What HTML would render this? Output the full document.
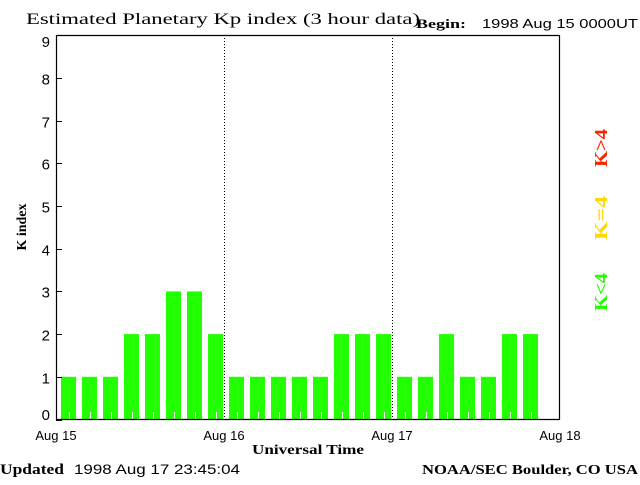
<!DOCTYPE html>
<html><head><meta charset="utf-8"><style>
body{margin:0;background:#fff;width:640px;height:480px;overflow:hidden}
</style></head><body>
<svg width="640" height="480" xmlns="http://www.w3.org/2000/svg" font-family="Liberation Sans, sans-serif">
<rect width="640" height="480" fill="#fff"/>
<text x="26" y="24" font-family="Liberation Serif, serif" font-size="16" textLength="394" lengthAdjust="spacingAndGlyphs">Estimated Planetary Kp index (3 hour data)</text>
<text x="416" y="28" font-family="Liberation Serif, serif" font-weight="bold" font-size="13" textLength="50" lengthAdjust="spacingAndGlyphs">Begin:</text>
<text x="482" y="28" font-size="13" textLength="156" lengthAdjust="spacingAndGlyphs">1998 Aug 15 0000UT</text>
<g id="bars" fill="#22ff00"></g>
<g stroke="#000" stroke-width="1" stroke-dasharray="1,2">
<line x1="224.5" y1="35" x2="224.5" y2="419"/>
<line x1="392.5" y1="35" x2="392.5" y2="419"/>
</g>
<g stroke="#000" stroke-width="1.2" fill="none">
<line x1="56.5" y1="35" x2="56.5" y2="420"/>
<line x1="56" y1="419.5" x2="560" y2="419.5"/>
<line x1="56" y1="35.5" x2="560" y2="35.5"/>
<line x1="559.5" y1="35" x2="559.5" y2="420"/>
</g>
<g id="ticks" stroke="#000"></g>
<g font-size="15" text-anchor="end" id="ylab"></g>
<text x="26" y="227" font-family="Liberation Serif, serif" font-weight="bold" font-size="14" transform="rotate(-90 26 227)" text-anchor="middle">K index</text>
<g font-size="13" text-anchor="middle">
<text x="56" y="440">Aug 15</text><text x="224" y="440">Aug 16</text>
<text x="392" y="440">Aug 17</text><text x="560" y="440">Aug 18</text>
</g>
<text x="252" y="454" font-family="Liberation Serif, serif" font-weight="bold" font-size="14" textLength="112" lengthAdjust="spacingAndGlyphs">Universal Time</text>
<text x="0" y="474" font-family="Liberation Serif, serif" font-weight="bold" font-size="15" textLength="64" lengthAdjust="spacingAndGlyphs">Updated</text>
<text x="74" y="474" font-size="14" textLength="166" lengthAdjust="spacingAndGlyphs">1998 Aug 17 23:45:04</text>
<text x="422" y="474" font-family="Liberation Serif, serif" font-weight="bold" font-size="14" textLength="216" lengthAdjust="spacingAndGlyphs">NOAA/SEC Boulder, CO USA</text>
<g font-family="Liberation Serif, serif" font-weight="bold" font-size="18">
<text transform="translate(607 167) rotate(-90)" fill="#ff2200" textLength="38" lengthAdjust="spacingAndGlyphs">K&gt;4</text>
<text transform="translate(607 240) rotate(-90)" fill="#ffd800" textLength="44" lengthAdjust="spacingAndGlyphs">K=4</text>
<text transform="translate(607 311) rotate(-90)" fill="#22ff00" textLength="38" lengthAdjust="spacingAndGlyphs">K&lt;4</text>
</g>
</svg>
<script>
var d=[1,1,1,2,2,3,3,2,1,1,1,1,1,2,2,2,1,1,2,1,1,2,2];
var ns="http://www.w3.org/2000/svg",g=document.getElementById('bars');
function y(v){return 419.5-42.7*v}
d.forEach(function(v,i){var x=61+21*i;var r=document.createElementNS(ns,'rect');
r.setAttribute('x',x);r.setAttribute('y',y(v));r.setAttribute('width',15);r.setAttribute('height',419.5-y(v));g.appendChild(r);
var l=document.createElementNS(ns,'line');l.setAttribute('x1',x+8.5);l.setAttribute('x2',x+8.5);l.setAttribute('y1',412);l.setAttribute('y2',419);l.setAttribute('stroke','#fff');g.appendChild(l);});
var t=document.getElementById('ticks'),yl=document.getElementById('ylab');
for(var v=0;v<=9;v++){var yy=Math.round(y(v))+0.5;var l=document.createElementNS(ns,'line');
l.setAttribute('x1',56);l.setAttribute('x2',62);l.setAttribute('y1',yy);l.setAttribute('y2',yy);t.appendChild(l);
var tx=document.createElementNS(ns,'text');tx.setAttribute('x',50);tx.setAttribute('y',Math.min(yy+6,420));if(v==9)tx.setAttribute('y',47);tx.textContent=v;yl.appendChild(tx);}
</script>
</body></html>
